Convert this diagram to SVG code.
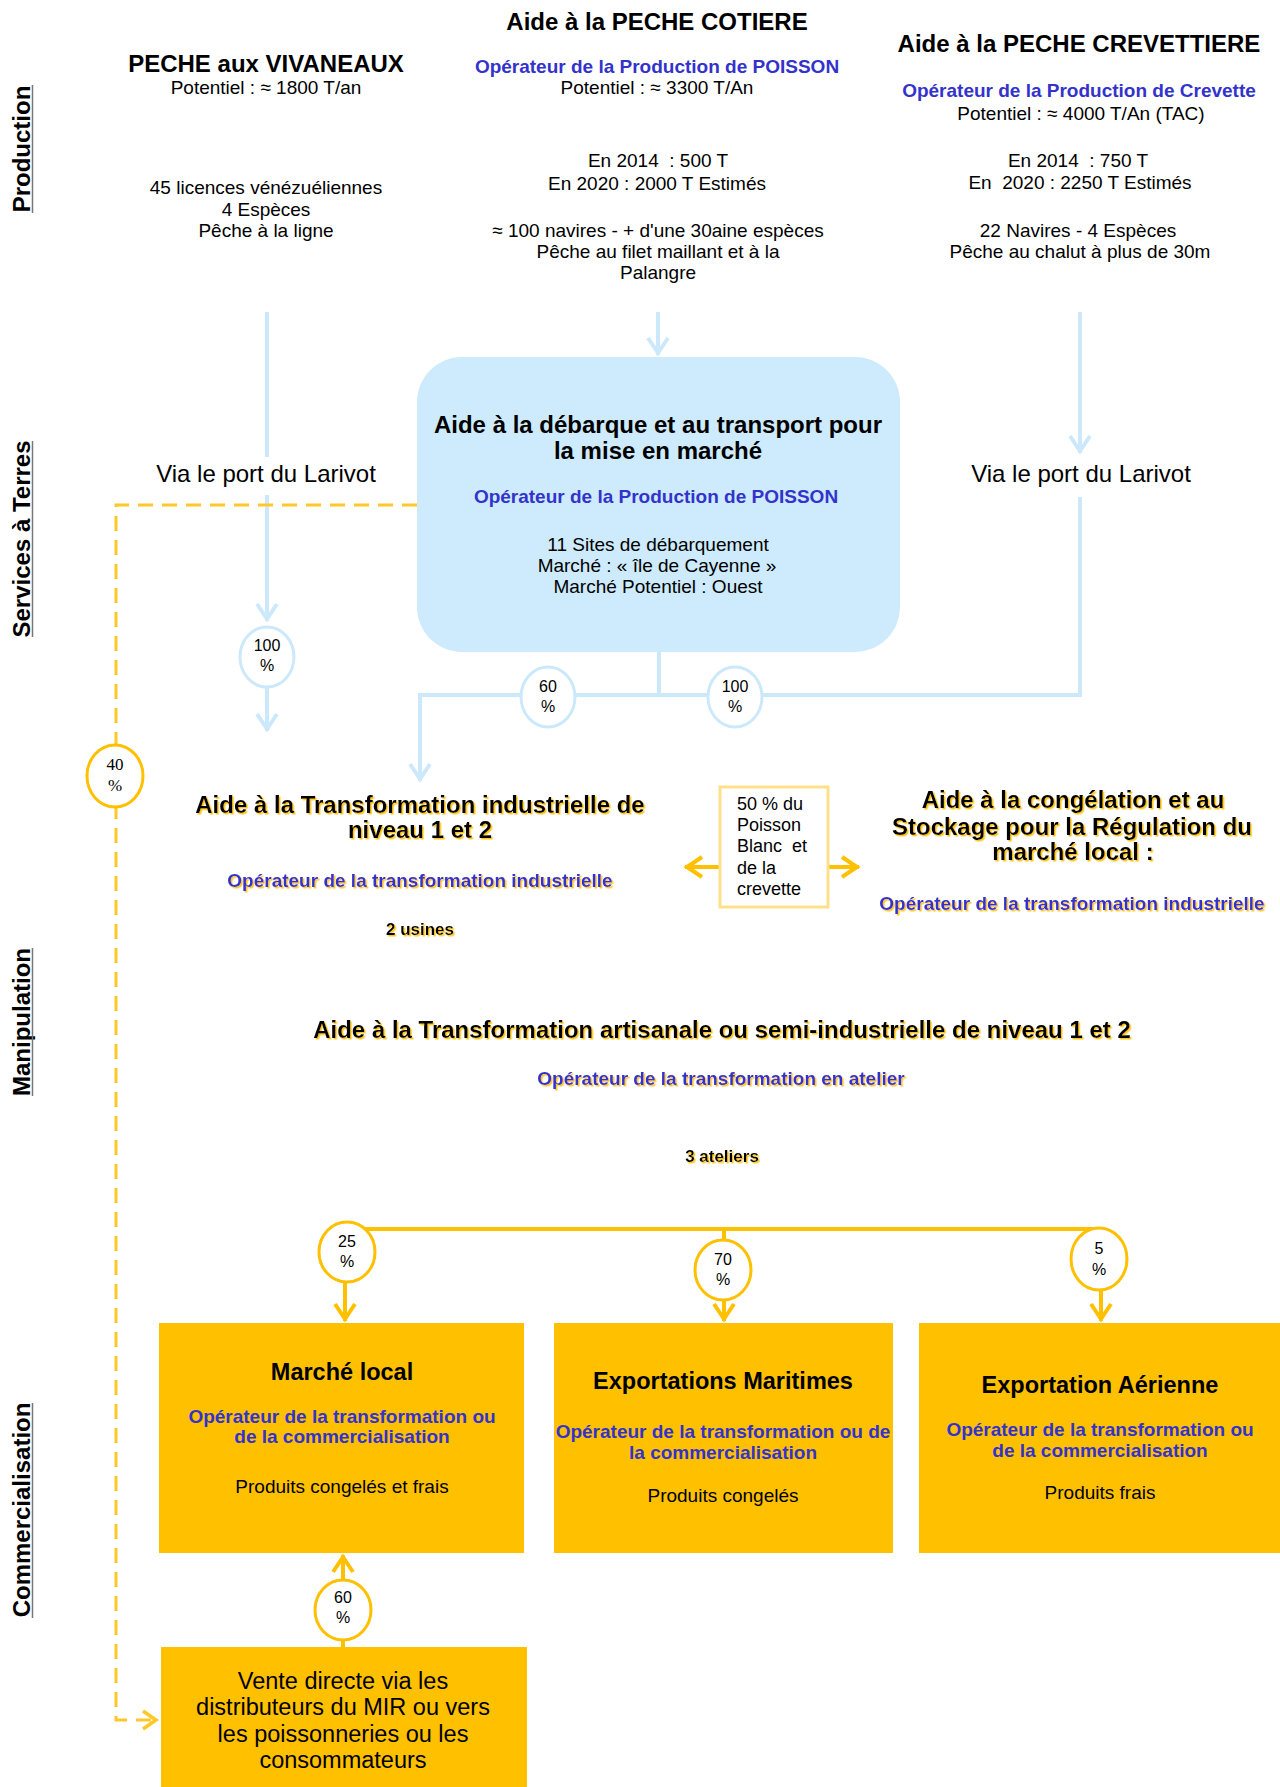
<svg xmlns="http://www.w3.org/2000/svg" width="1280" height="1787" viewBox="0 0 1280 1787">
<defs>
<style>
text{font-family:"Liberation Sans",Arial,sans-serif;text-anchor:middle;fill:#000}
.h{font-weight:bold;font-size:24px}
.h2{font-weight:bold;font-size:24px}
.h3{font-weight:bold;font-size:23.5px}
.r{font-size:19px}
.rs{font-size:18px;text-anchor:start}
.rv{font-size:24px}
.rb{font-size:23.5px}
.bl{font-weight:bold;font-size:19px;fill:#3333cc}
.sb{font-weight:bold;font-size:17px}
.pc{font-size:16px}
.pcs{font-size:17px;font-family:"Liberation Serif","Times New Roman",serif}
.pre{white-space:pre}
.lane{font-weight:bold;font-size:24px}
.sh{filter:url(#ysh)}
.lb{fill:none;stroke:#cce9fb;stroke-width:4}
.ly{fill:none;stroke:#ffc000;stroke-width:4}
.ld{fill:none;stroke:#ffc829;stroke-width:3;stroke-dasharray:15 9}
.cb{fill:#fff;stroke:#cce9fb;stroke-width:3}
.cy{fill:#fff;stroke:#ffc000;stroke-width:3}
.ob{fill:#ffc000}
.ul{stroke:#777;stroke-width:1.5}
</style>
<filter id="ysh" x="-5%" y="-30%" width="110%" height="160%">
<feDropShadow dx="1.5" dy="1.5" stdDeviation="0" flood-color="#ffc000" flood-opacity="0.9"/>
</filter>
<marker id="aB" viewBox="-20 -12 24 24" refX="0" refY="0" markerWidth="24" markerHeight="24" markerUnits="userSpaceOnUse" orient="auto" overflow="visible">
<path d="M-17,-10 L-2,0 L-17,10" fill="none" stroke="#cce9fb" stroke-width="4"/>
</marker>
<marker id="aY" viewBox="-20 -12 24 24" refX="0" refY="0" markerWidth="24" markerHeight="24" markerUnits="userSpaceOnUse" orient="auto" overflow="visible">
<path d="M-17,-10 L-2,0 L-17,10" fill="none" stroke="#ffc000" stroke-width="4"/>
</marker>
<marker id="aD" viewBox="-20 -12 24 24" refX="0" refY="0" markerWidth="24" markerHeight="24" markerUnits="userSpaceOnUse" orient="auto" overflow="visible">
<path d="M-15,-9 L-2,0 L-15,9" fill="none" stroke="#ffc829" stroke-width="3.5"/>
</marker>
</defs>
<rect width="1280" height="1787" fill="#fff"/>

<g id="lanes">
<text class="lane" transform="translate(30,149) rotate(-90)">Production</text>
<line class="ul" x1="32.5" y1="85" x2="32.5" y2="213"/>
<text class="lane" transform="translate(30,539) rotate(-90)">Services à Terres</text>
<line class="ul" x1="32.5" y1="441" x2="32.5" y2="637"/>
<text class="lane" transform="translate(30,1022) rotate(-90)">Manipulation</text>
<line class="ul" x1="32.5" y1="948" x2="32.5" y2="1096"/>
<text class="lane" transform="translate(30,1510) rotate(-90)">Commercialisation</text>
<line class="ul" x1="32.5" y1="1403" x2="32.5" y2="1618"/>
</g>

<g id="connectors">
<path class="lb" d="M267,312 V457"/>
<path class="lb" d="M267,495 V621" marker-end="url(#aB)"/>
<path class="lb" d="M267,687 V731" marker-end="url(#aB)"/>
<path class="lb" d="M658,312 V355" marker-end="url(#aB)"/>
<path class="lb" d="M1080,312 V453" marker-end="url(#aB)"/>
<path class="lb" d="M1080,497 V695 H420 V781" marker-end="url(#aB)"/>
<path class="lb" d="M659,652 V695"/>
<path class="ld" d="M417,505 H116 V1720 H158" marker-end="url(#aD)"/>
<path class="ly" d="M347,1229 H1099"/>
<path class="ly" d="M724,1229 V1240"/>
<path class="ly" d="M345,1282 V1321" marker-end="url(#aY)"/>
<path class="ly" d="M724,1299 V1321" marker-end="url(#aY)"/>
<path class="ly" d="M1101,1289 V1321" marker-end="url(#aY)"/>
<path class="ly" d="M343,1647 V1640"/>
<path class="ly" d="M343,1580 V1555" marker-end="url(#aY)"/>
<path class="ly" d="M720,867 H685" marker-end="url(#aY)"/>
<path class="ly" d="M828,867 H859" marker-end="url(#aY)"/>
</g>

<g id="pct100a"><ellipse class="cb" cx="267" cy="657" rx="27" ry="30"/><text class="pc" x="267" y="651">100</text><text class="pc" x="267" y="671">%</text></g>
<g id="pct60a"><ellipse class="cb" cx="548" cy="697" rx="27" ry="30"/><text class="pc" x="548" y="692">60</text><text class="pc" x="548" y="712">%</text></g>
<g id="pct100b"><ellipse class="cb" cx="735" cy="697" rx="27" ry="30"/><text class="pc" x="735" y="692">100</text><text class="pc" x="735" y="712">%</text></g>
<g id="pct40"><ellipse class="cy" cx="115" cy="776" rx="28" ry="31"/><text class="pcs" x="115" y="770">40</text><text class="pcs" x="115" y="791">%</text></g>
<g id="pct25"><ellipse class="cy" cx="347" cy="1252" rx="28" ry="30"/><text class="pc" x="347" y="1247">25</text><text class="pc" x="347" y="1267">%</text></g>
<g id="pct70"><ellipse class="cy" cx="723" cy="1270" rx="28" ry="30"/><text class="pc" x="723" y="1265">70</text><text class="pc" x="723" y="1285">%</text></g>
<g id="pct5"><ellipse class="cy" cx="1099" cy="1259" rx="28" ry="31"/><text class="pc" x="1099" y="1254">5</text><text class="pc" x="1099" y="1275">%</text></g>
<g id="pct60b"><ellipse class="cy" cx="343" cy="1610" rx="28" ry="30"/><text class="pc" x="343" y="1603">60</text><text class="pc" x="343" y="1623">%</text></g>

<g id="vivaneaux">
<text class="h" x="266" y="72">PECHE aux VIVANEAUX</text>
<text class="r" x="266" y="94">Potentiel : ≈ 1800 T/an</text>
<text class="r" x="266" y="194">45 licences vénézuéliennes</text>
<text class="r" x="266" y="216">4 Espèces</text>
<text class="r" x="266" y="237">Pêche à la ligne</text>
</g>

<g id="cotiere">
<text class="h" x="657" y="30">Aide à la PECHE COTIERE</text>
<text class="bl" x="657" y="73">Opérateur de la Production de POISSON</text>
<text class="r" x="657" y="94">Potentiel : ≈ 3300 T/An</text>
<text class="r pre" x="658" y="167">En 2014  : 500 T</text>
<text class="r" x="657" y="190">En 2020 : 2000 T Estimés</text>
<text class="r" x="658" y="237">≈ 100 navires - + d'une 30aine espèces</text>
<text class="r" x="658" y="258">Pêche au filet maillant et à la</text>
<text class="r" x="658" y="279">Palangre</text>
</g>

<g id="crevettiere">
<text class="h" x="1079" y="52">Aide à la PECHE CREVETTIERE</text>
<text class="bl" x="1079" y="97">Opérateur de la Production de Crevette</text>
<text class="r" x="1081" y="120">Potentiel : ≈ 4000 T/An (TAC)</text>
<text class="r pre" x="1078" y="167">En 2014  : 750 T</text>
<text class="r pre" x="1080" y="189">En  2020 : 2250 T Estimés</text>
<text class="r" x="1078" y="237">22 Navires - 4 Espèces</text>
<text class="r" x="1080" y="258">Pêche au chalut à plus de 30m</text>
</g>

<g id="via-left"><text class="rv" x="266" y="482">Via le port du Larivot</text></g>
<g id="via-right"><text class="rv" x="1081" y="482">Via le port du Larivot</text></g>

<g id="debarque">
<rect x="417" y="357" width="483" height="295" rx="45" ry="45" fill="#cdebfc"/>
<text class="h2" x="658" y="433">Aide à la débarque et au transport pour</text>
<text class="h2" x="658" y="459">la mise en marché</text>
<text class="bl" x="656" y="503">Opérateur de la Production de POISSON</text>
<text class="r" x="658" y="551">11 Sites de débarquement</text>
<text class="r" x="657" y="572">Marché : « île de Cayenne »</text>
<text class="r" x="658" y="593">Marché Potentiel : Ouest</text>
</g>

<g id="transfo-indus">
<text class="h2 sh" x="420" y="813">Aide à la Transformation industrielle de</text>
<text class="h2 sh" x="420" y="838">niveau 1 et 2</text>
<text class="bl sh" x="420" y="887">Opérateur de la transformation industrielle</text>
<text class="sb sh" x="420" y="935">2 usines</text>
</g>

<g id="part50">
<rect x="720" y="787" width="108" height="120" fill="#fff" stroke="#ffe08a" stroke-width="3"/>
<text class="rs pre" x="737" y="810">50 % du</text>
<text class="rs" x="737" y="831">Poisson</text>
<text class="rs pre" x="737" y="852">Blanc  et</text>
<text class="rs" x="737" y="874">de la</text>
<text class="rs" x="737" y="895">crevette</text>
</g>

<g id="congelation">
<text class="h2 sh" x="1073" y="808">Aide à la congélation et au</text>
<text class="h2 sh" x="1072" y="835">Stockage pour la Régulation du</text>
<text class="h2 sh" x="1073" y="860">marché local :</text>
<text class="bl sh" x="1072" y="910">Opérateur de la transformation industrielle</text>
</g>

<g id="transfo-artisanale">
<text class="h2 sh" x="722" y="1038">Aide à la Transformation artisanale ou semi-industrielle de niveau 1 et 2</text>
<text class="bl sh" x="721" y="1085">Opérateur de la transformation en atelier</text>
<text class="sb sh" x="722" y="1162">3 ateliers</text>
</g>

<g id="marche-local">
<rect class="ob" x="159" y="1323" width="365" height="230"/>
<text class="h3" x="342" y="1380">Marché local</text>
<text class="bl" x="342" y="1423">Opérateur de la transformation ou</text>
<text class="bl" x="342" y="1443">de la commercialisation</text>
<text class="r" x="342" y="1493">Produits congelés et frais</text>
</g>

<g id="export-maritime">
<rect class="ob" x="554" y="1323" width="339" height="230"/>
<text class="h3" x="723" y="1389">Exportations Maritimes</text>
<text class="bl" x="723" y="1438">Opérateur de la transformation ou de</text>
<text class="bl" x="723" y="1459">la commercialisation</text>
<text class="r" x="723" y="1502">Produits congelés</text>
</g>

<g id="export-aerienne">
<rect class="ob" x="919" y="1323" width="361" height="230"/>
<text class="h3" x="1100" y="1393">Exportation Aérienne</text>
<text class="bl" x="1100" y="1436">Opérateur de la transformation ou</text>
<text class="bl" x="1100" y="1457">de la commercialisation</text>
<text class="r" x="1100" y="1499">Produits frais</text>
</g>

<g id="vente-directe">
<rect class="ob" x="161" y="1647" width="366" height="140"/>
<text class="rb" x="343" y="1689">Vente directe via les</text>
<text class="rb" x="343" y="1715">distributeurs du MIR ou vers</text>
<text class="rb" x="343" y="1742">les poissonneries ou les</text>
<text class="rb" x="343" y="1768">consommateurs</text>
</g>
</svg>
